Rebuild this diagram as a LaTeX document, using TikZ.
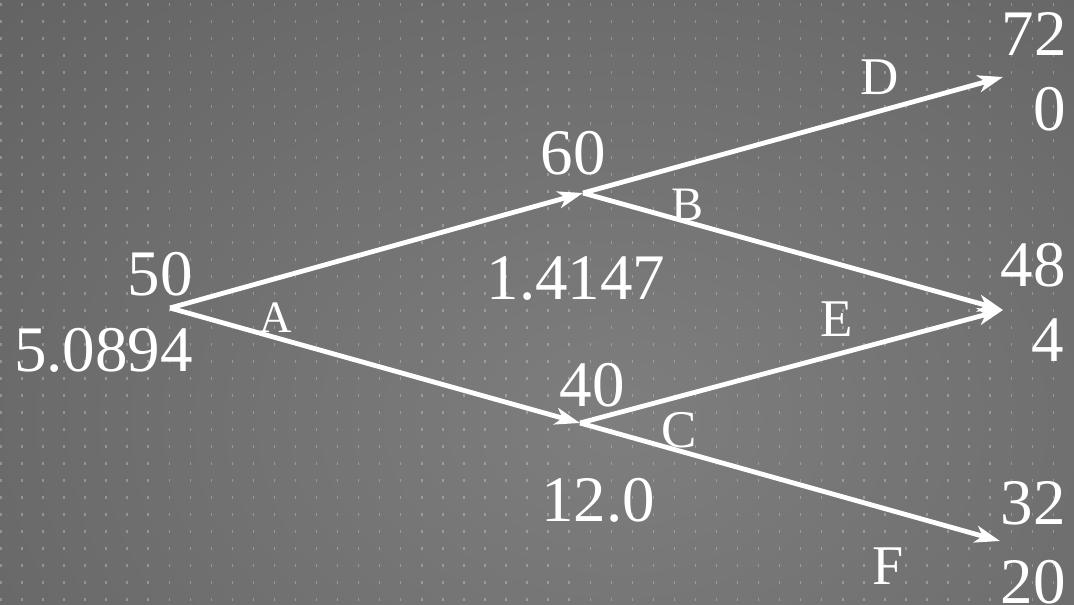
\documentclass[tikz,border=0pt]{standalone}
\usepackage{fontspec}
\setmainfont{Liberation Serif}
\usetikzlibrary{arrows.meta}
\definecolor{bgdark}{RGB}{88,88,88}
\definecolor{bglight}{RGB}{126,126,126}
\tikzset{
  num/.style={font=\fontsize{65}{70}\selectfont, text=white, inner sep=0pt},
  lab/.style={font=\fontsize{53}{60}\selectfont, text=white, inner sep=0pt},
  edge/.style={draw=white, line width=4.8pt, -{Stealth[length=25pt,width=17pt,inset=7pt]}},
  griddot/.style={fill=white, fill opacity=0.27}
}
\begin{document}
\begin{tikzpicture}[x=1pt,y=-1pt]
\useasboundingbox (0,0) rectangle (1074,605);
\begin{scope}
  \clip (0,0) rectangle (1074,605);
  \shade[inner color=bglight, outer color=bgdark] (-580,-480) rectangle (1820,1320);
  \foreach \i in {0,...,51}{
    \foreach \j in {0,...,35}{
      \fill[griddot] ({0.1+21.05*\i},{3.2+17*\j}) rectangle ++(1.4,2.4);
    }
  }
\end{scope}
% points
\coordinate (R) at (170,308);
\coordinate (U) at (583,193);
\coordinate (Dn) at (580,423);
\coordinate (TD) at (1003,77);
\coordinate (TE) at (1003,310);
\coordinate (TF) at (1000,541);
% edges
\draw[edge] (R) -- (U);
\draw[edge] (R) -- (Dn);
\draw[edge] (U) -- (TD);
\draw[edge] (U) -- (TE);
\draw[edge] (Dn) -- (TE);
\draw[edge] (Dn) -- (TF);
% values
\node[num] (v50) at (160,274) {50};
\node[num] (o50) at (103.5,350) {5.0894};
\node[num] (v60) at (573,153.5) {60};
\node[num] (o60) at (576,278.5) {1.4147};
\node[num] (v40) at (592,385) {40};
\node[num] (o40) at (598,500.5) {12.0};
\node[num] (v72) at (1034,33.5) {72};
\node[num] (o72) at (1050,109.5) {0};
\node[num] (v48) at (1033,265) {48};
\node[num] (o48) at (1048,340) {4};
\node[num] (v32) at (1033,503.5) {32};
\node[num] (o32) at (1033,582) {20};
% edge labels
\node[lab, font=\fontsize{45}{50}\selectfont] (lA) at (276,318) {A};
\node[lab, font=\fontsize{48}{54}\selectfont] (lB) at (688,205) {B};
\node[lab] (lC) at (679,430) {C};
\node[lab] (lD) at (880,77.5) {D};
\node[lab] (lE) at (837,319.5) {E};
\node[lab, font=\fontsize{56}{60}\selectfont] (lF) at (888,566) {F};
\end{tikzpicture}
\end{document}
